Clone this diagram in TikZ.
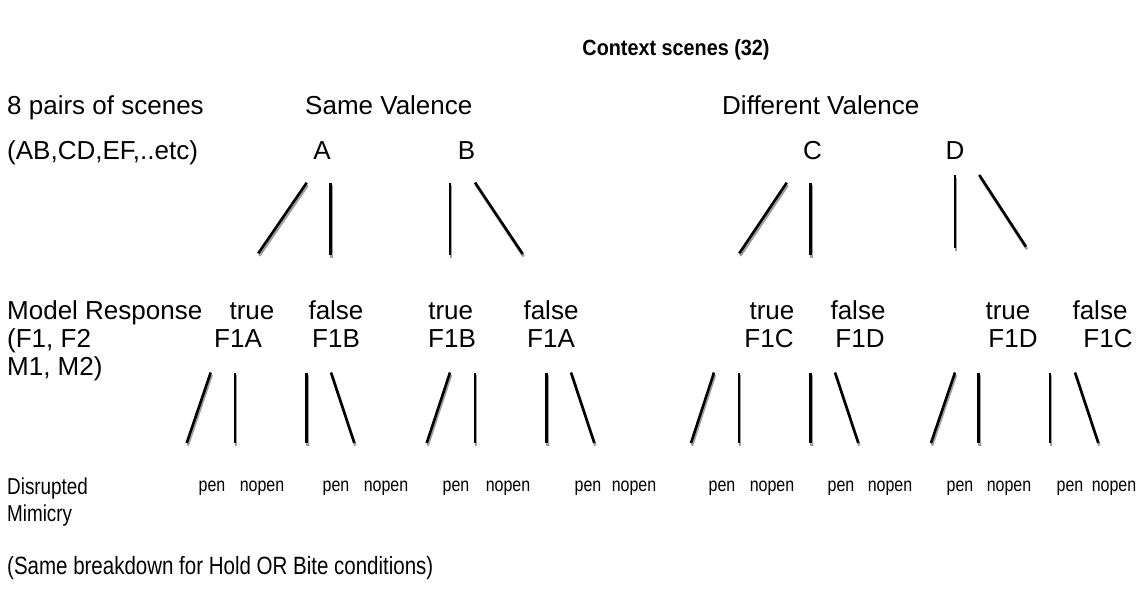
\documentclass[tikz,border=0pt]{standalone}
\usepackage{fontspec}
\setmainfont{Liberation Sans}
\newfontfamily\narrowfam[FakeStretch=0.82]{Liberation Sans}
\newfontfamily\titlefam[FakeStretch=0.9]{Liberation Sans}
\newcommand\txtbig{\fontsize{26}{30}\selectfont}
\newcommand\txttitle{\titlefam\bfseries\fontsize{22}{26}\selectfont}
\newcommand\txtnarrow{\narrowfam\fontsize{23}{27}\selectfont}
\newcommand\txtfoot{\narrowfam\fontsize{25}{29}\selectfont}
\newcommand\txtsmall{\narrowfam\fontsize{19.5}{23}\selectfont}
\tikzset{
  lbl/.style={anchor=base west, inner sep=0pt, font=\txtbig},
  clbl/.style={anchor=base, inner sep=0pt, font=\txtbig},
  nlbl/.style={anchor=base west, inner sep=0pt, font=\txtnarrow},
  slbl/.style={anchor=base, inner sep=0pt, font=\txtsmall},
  br/.style={draw=black, line width=2.6pt,
    preaction={draw=gray!75, line width=2.6pt, transform canvas={xshift=1pt,yshift=-2.5pt}}}
}
\begin{document}
\begin{tikzpicture}[x=1pt,y=-1pt]
\useasboundingbox (0,0) rectangle (1138,595);
% title and headers
\node[anchor=base, inner sep=0pt, font=\txttitle] (title) at (676,55) {Context scenes (32)};
\node[lbl] (pairs) at (7,114) {8 pairs of scenes};
\node[lbl] (same) at (305,114) {Same Valence};
\node[lbl] (diff) at (722,114) {Different Valence};
\node[lbl] (abcd) at (7,159) {(AB,CD,EF,..etc)};
\node[clbl] (A) at (322,159) {A};
\node[clbl] (B) at (466.5,159) {B};
\node[clbl] (C) at (812.5,159) {C};
\node[clbl] (D) at (955,159) {D};
% top-level branch ends
\coordinate (a1t) at (306.7,182.7); \coordinate (a1b) at (258.3,253.3);
\coordinate (a2t) at (330.7,182.5); \coordinate (a2b) at (330.7,255);
\coordinate (b1t) at (450,182.5);   \coordinate (b1b) at (450,255);
\coordinate (b2t) at (475,182.5);   \coordinate (b2b) at (522.7,254);
\coordinate (c1t) at (786.7,182.7); \coordinate (c1b) at (739.3,253.3);
\coordinate (c2t) at (810.7,182.5); \coordinate (c2b) at (810.7,255);
\coordinate (d1t) at (955,175);     \coordinate (d1b) at (955,248);
\coordinate (d2t) at (979.3,175);   \coordinate (d2b) at (1026,246.7);
\foreach \n in {a1,a2,b1,b2,c1,c2,d1,d2} \draw[br] (\n t) -- (\n b);
% model response row
\node[lbl] (mr) at (7,319) {Model Response};
\node[lbl] (f1f2) at (7,347) {(F1, F2};
\node[lbl] (m1m2) at (7,375) {M1, M2)};
\node[clbl] (t1) at (252,319) {true};
\node[clbl] (fa1) at (336,319) {false};
\node[clbl] (t2) at (450.7,319) {true};
\node[clbl] (fa2) at (551,319) {false};
\node[clbl] (t3) at (772,319) {true};
\node[clbl] (fa3) at (858,319) {false};
\node[clbl] (t4) at (1008,319) {true};
\node[clbl] (fa4) at (1100,319) {false};
\node[clbl] (l1) at (238,347) {F1A};
\node[clbl] (l2) at (336,347) {F1B};
\node[clbl] (l3) at (452,347) {F1B};
\node[clbl] (l4) at (551,347) {F1A};
\node[clbl] (l5) at (769,347) {F1C};
\node[clbl] (l6) at (860,347) {F1D};
\node[clbl] (l7) at (1013,347) {F1D};
\node[clbl] (l8) at (1108,347) {F1C};
% second-level branch ends
\coordinate (s1t) at (210.7,372.5); \coordinate (s1b) at (186.7,443);
\coordinate (s2t) at (235,372.5);   \coordinate (s2b) at (235,443);
\coordinate (s3t) at (306.7,372.5); \coordinate (s3b) at (306.7,443);
\coordinate (s4t) at (331,372.5);   \coordinate (s4b) at (354.3,443);
\coordinate (s5t) at (450,372.5);   \coordinate (s5b) at (426.7,443);
\coordinate (s6t) at (475,372.5);   \coordinate (s6b) at (475,443);
\coordinate (s7t) at (546.7,372.5); \coordinate (s7b) at (546.7,443);
\coordinate (s8t) at (571,372.5);   \coordinate (s8b) at (594.3,443);
\coordinate (s9t) at (714,372.5);   \coordinate (s9b) at (691,443);
\coordinate (s10t) at (739,372.5);  \coordinate (s10b) at (739,443);
\coordinate (s11t) at (810.7,372.5); \coordinate (s11b) at (810.7,443);
\coordinate (s12t) at (835,372.5);  \coordinate (s12b) at (858.3,443);
\coordinate (s13t) at (955,372.5);  \coordinate (s13b) at (931,443);
\coordinate (s14t) at (978.3,372.5); \coordinate (s14b) at (978.3,443);
\coordinate (s15t) at (1050,372.5); \coordinate (s15b) at (1050,443);
\coordinate (s16t) at (1075,372.5); \coordinate (s16b) at (1098.3,443);
\foreach \n in {s1,s2,s3,s4,s5,s6,s7,s8,s9,s10,s11,s12,s13,s14,s15,s16} \draw[br] (\n t) -- (\n b);
% disrupted mimicry row
\node[nlbl] (dis) at (7,494) {Disrupted};
\node[nlbl] (mim) at (7,521) {Mimicry};
\node[slbl] (p1) at (212,491) {pen};    \node[slbl] (n1) at (262,491) {nopen};
\node[slbl] (p2) at (336,491) {pen};    \node[slbl] (n2) at (386,491) {nopen};
\node[slbl] (p3) at (456,491) {pen};    \node[slbl] (n3) at (508,491) {nopen};
\node[slbl] (p4) at (588,491) {pen};    \node[slbl] (n4) at (634,491) {nopen};
\node[slbl] (p5) at (722,491) {pen};    \node[slbl] (n5) at (772,491) {nopen};
\node[slbl] (p6) at (841,491) {pen};    \node[slbl] (n6) at (890,491) {nopen};
\node[slbl] (p7) at (960,491) {pen};    \node[slbl] (n7) at (1009,491) {nopen};
\node[slbl] (p8) at (1070,491) {pen};   \node[slbl] (n8) at (1114,491) {nopen};
\node[anchor=base west, inner sep=0pt, font=\txtfoot] (foot) at (7,574) {(Same breakdown for Hold OR Bite conditions)};
\end{tikzpicture}
\end{document}
